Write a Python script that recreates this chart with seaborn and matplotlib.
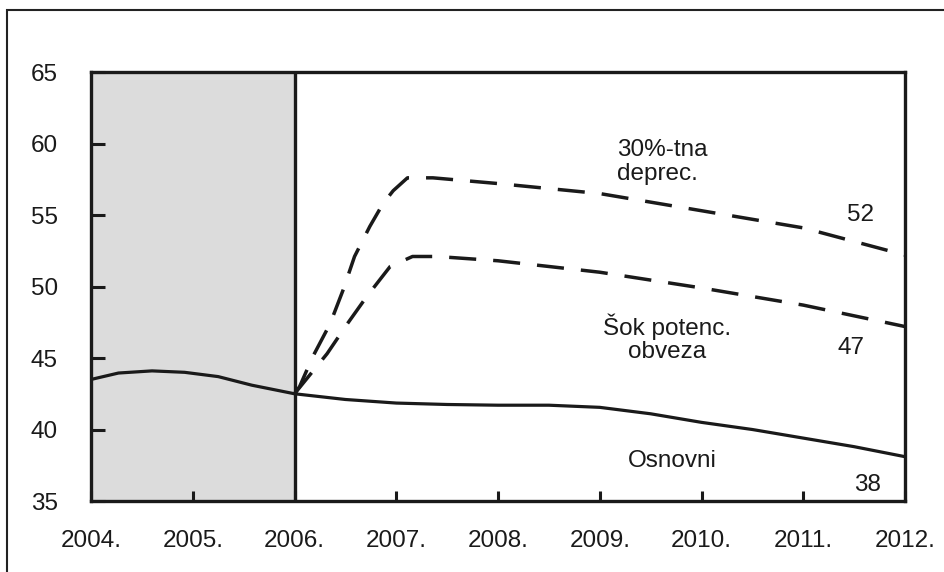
import matplotlib
matplotlib.use("Agg")
import matplotlib.pyplot as plt
import pandas as pd
import seaborn as sns
from matplotlib.patches import Rectangle

# Osnovni scenarij (solid)
base_years = [2004.0, 2004.27, 2004.6, 2004.92, 2005.25, 2005.58, 2006.0, 2006.5, 2007.0,
              2007.5, 2008.0, 2008.5, 2009.0, 2009.5, 2010.0, 2010.5, 2011.0, 2011.5, 2012.0]
base_vals = [43.5, 43.95, 44.1, 44.0, 43.7, 43.1, 42.5, 42.1, 41.85,
             41.75, 41.7, 41.7, 41.55, 41.1, 40.5, 40.0, 39.4, 38.8, 38.1]

# 30%-tna deprecijacija (dashed, upper)
dep_years = [2006.0, 2006.05, 2006.18, 2006.35, 2006.48, 2006.59, 2006.74, 2006.87, 2006.97,
             2007.11, 2007.36, 2008.0, 2009.0, 2010.0, 2011.0, 2012.0]
dep_vals = [42.5, 43.0, 45.1, 47.4, 49.8, 52.1, 54.2, 55.8, 56.7,
            57.6, 57.6, 57.2, 56.5, 55.3, 54.1, 52.2]

# Šok potencijalnih obveza (dashed, lower)
shock_years = [2006.0, 2006.32, 2006.52, 2006.71, 2006.94, 2007.16, 2007.4,
               2008.0, 2009.0, 2010.0, 2011.0, 2012.0]
shock_vals = [42.5, 45.3, 47.4, 49.3, 51.4, 52.1, 52.1,
              51.8, 51.0, 49.9, 48.7, 47.2]

year_ticks = list(range(2004, 2013))
year_labels = [f"{y}." for y in year_ticks]
y_ticks = [35, 40, 45, 50, 55, 60, 65]

sns.set_theme(style="white")
plt.rcParams["font.family"] = ["Liberation Sans", "DejaVu Sans"]

fig = plt.figure(figsize=(9.44, 5.72), dpi=100)
ax = fig.add_axes([0.0964, 0.1241, 0.8623, 0.75])

# frame round the whole picture
fig.patches.append(Rectangle((7 / 944, -0.05), 1.2, 1 - 10 / 572 + 0.05,
                             transform=fig.transFigure, fill=False,
                             edgecolor="#222222", linewidth=1.5))

ax.axvspan(2004, 2006, color="#dcdcdc", zorder=0)
ax.axvline(2006, color="#1a1a1a", linewidth=2.4, zorder=3)

base_df = pd.DataFrame({"year": base_years, "value": base_vals})
dep_df = pd.DataFrame({"year": dep_years, "value": dep_vals})
shock_df = pd.DataFrame({"year": shock_years, "value": shock_vals})

dash = (0, (7.8, 4.9))
sns.lineplot(data=base_df, x="year", y="value", ax=ax, color="#1a1a1a", linewidth=2.3)
sns.lineplot(data=dep_df, x="year", y="value", ax=ax, color="#1a1a1a", linewidth=2.5,
             linestyle=dash)
sns.lineplot(data=shock_df, x="year", y="value", ax=ax, color="#1a1a1a", linewidth=2.5,
             linestyle=dash)

ax.set_xlim(2004, 2012)
ax.set_ylim(35, 65)
ax.set_xticks(year_ticks)
ax.set_xticklabels(year_labels)
ax.set_yticks(y_ticks)
ax.set_xlabel("")
ax.set_ylabel("")

ax.tick_params(axis="y", direction="in", length=10, width=2.2, pad=24,
               labelsize=17.5, colors="#1a1a1a", left=True)
ax.tick_params(axis="x", direction="in", length=7, width=2.2, pad=21,
               labelsize=17.5, colors="#1a1a1a", bottom=True)
for s in ax.spines.values():
    s.set_linewidth(2.4)
    s.set_color("#1a1a1a")

txt = dict(fontsize=17.5, color="#1a1a1a")
ax.text(2009.17, 58.7, "30%-tna\ndeprec.", ha="left", va="center", linespacing=1.1, **txt)
ax.text(2011.56, 55.0, "52", ha="center", va="center", **txt)
ax.text(2009.66, 46.4, "Šok potenc.\nobveza", ha="center", va="center", linespacing=1.05, **txt)
ax.text(2011.47, 45.7, "47", ha="center", va="center", **txt)
ax.text(2009.71, 37.8, "Osnovni", ha="center", va="center", **txt)
ax.text(2011.63, 36.1, "38", ha="center", va="center", **txt)

fig.savefig("out.png", dpi=100)
